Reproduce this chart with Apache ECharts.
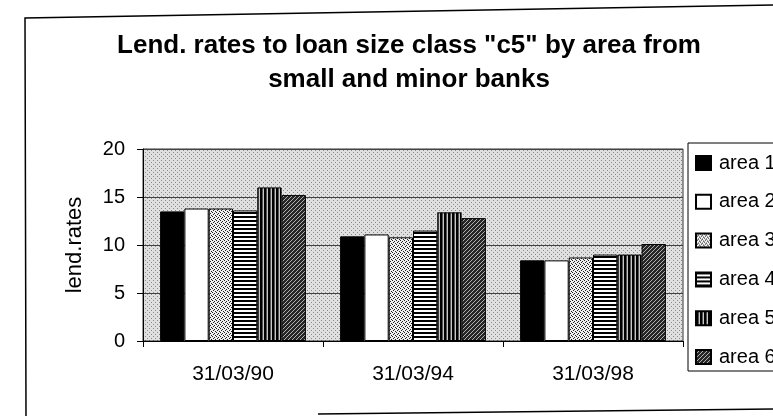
<!DOCTYPE html>
<html>
<head>
<meta charset="utf-8">
<title>Lend. rates to loan size class "c5"</title>
<script src="https://cdn.jsdelivr.net/npm/echarts@6/dist/echarts.min.js"></script>
<style>
  html, body { margin: 0; padding: 0; background: #fff; }
  #chart { width: 773px; height: 416px; }
</style>
</head>
<body>
<div id="chart"></div>
<script>
// Survey dates on the category axis
const categories = ['31/03/90', '31/03/94', '31/03/98'];

// Lending rates per area (one value per survey date)
const area1 = [13.5, 10.9, 8.4];
const area2 = [13.8, 11.1, 8.4];
const area3 = [13.8, 10.8, 8.7];
const area4 = [13.6, 11.5, 9.0];
const area5 = [16.0, 13.4, 9.0];
const area6 = [15.2, 12.8, 10.1];

const seriesNames = ['area 1', 'area 2', 'area 3', 'area 4', 'area 5', 'area 6'];
const seriesValues = [area1, area2, area3, area4, area5, area6];

// Value axis ticks
const yTicks = [0, 5, 10, 15, 20];

const titleText = 'Lend. rates to loan size class "c5" by area from\nsmall and minor banks';
const yAxisName = 'lend.rates';

// Small repeating bitmap fills, in the style of monochrome print patterns
function makePattern(size, bg, draw) {
  const c = document.createElement('canvas');
  c.width = size; c.height = size;
  const g = c.getContext('2d');
  g.fillStyle = bg;
  g.fillRect(0, 0, size, size);
  draw(g);
  return { image: c, repeat: 'repeat' };
}
function px(g, color, pts) {
  g.fillStyle = color;
  pts.forEach(p => g.fillRect(p[0], p[1], 1, 1));
}

const fills = [
  '#000000',
  '#ffffff',
  // light stipple
  makePattern(4, '#f0f0f0', g => px(g, '#222', [[0, 0], [2, 1], [1, 2], [3, 3]])),
  // horizontal stripes
  makePattern(4, '#ffffff', g => { g.fillStyle = '#000'; g.fillRect(0, 0, 4, 2); }),
  // vertical stripes
  makePattern(4, '#c8c8c8', g => { g.fillStyle = '#000'; g.fillRect(0, 0, 2, 4); g.fillStyle = '#555'; g.fillRect(2, 0, 1, 4); }),
  // dark diagonal weave
  makePattern(4, '#262626', g => px(g, '#b0b0b0', [[0, 3], [1, 2], [2, 1], [3, 0]]))
];

// Grey stippled plot background
const plotFill = makePattern(4, '#e0e0e0', g => px(g, '#888', [[1, 0], [3, 2]]));

const FONT = 'Liberation Sans, Arial, sans-serif';

const chart = echarts.init(document.getElementById('chart'), null, { renderer: 'canvas' });

chart.setOption({
  animation: false,
  backgroundColor: '#ffffff',
  grid: {
    left: 143, right: 90, top: 149, bottom: 75,
    show: true,
    backgroundColor: plotFill,
    borderColor: '#333',
    borderWidth: 1
  },
  legend: {
    orient: 'vertical',
    left: 688, top: 143,
    padding: [10, 60, 4, 7],
    itemGap: 18.8,
    itemWidth: 15,
    itemHeight: 14,
    icon: 'rect',
    backgroundColor: '#fff',
    borderColor: '#000',
    borderWidth: 1,
    borderRadius: 0,
    textStyle: { fontFamily: FONT, fontSize: 20, color: '#000', lineHeight: 20, padding: [0, 0, 0, 3] },
    data: seriesNames
  },
  xAxis: {
    type: 'category',
    data: categories,
    axisLine: { show: true, lineStyle: { color: '#000', width: 1 } },
    axisTick: { show: true, length: 6, alignWithLabel: false, lineStyle: { color: '#000' } },
    axisLabel: { fontFamily: FONT, fontSize: 21, color: '#000', margin: 23 },
    splitLine: { show: false }
  },
  yAxis: {
    type: 'value',
    min: yTicks[0],
    max: yTicks[yTicks.length - 1],
    interval: yTicks[1] - yTicks[0],
    name: yAxisName,
    nameLocation: 'middle',
    nameGap: 57,
    nameTextStyle: { fontFamily: FONT, fontSize: 22, color: '#000' },
    axisLine: { show: true, lineStyle: { color: '#000', width: 1 } },
    axisTick: { show: true, length: 6, lineStyle: { color: '#000' } },
    axisLabel: { fontFamily: FONT, fontSize: 20, color: '#000', margin: 18 },
    splitLine: { show: true, lineStyle: { color: '#444', width: 1 } }
  },
  series: seriesNames.map((name, i) => ({
    name: name,
    type: 'bar',
    data: seriesValues[i],
    barGap: '0%',
    barCategoryGap: '19%',
    itemStyle: { color: fills[i], borderColor: '#000', borderWidth: 1 }
  })),
  graphic: [
    {
      type: 'text',
      x: 409, y: 29,
      style: {
        text: titleText,
        fontFamily: FONT,
        fontSize: 26,
        fontWeight: 'bold',
        lineHeight: 34,
        fill: '#000',
        align: 'center',
        textAlign: 'center'
      }
    },
    // chart frame
    { type: 'polyline', shape: { points: [[26, 416], [25, 18], [773, 5]] }, style: { stroke: '#000', lineWidth: 1.5, fill: null } },
    { type: 'line', shape: { x1: 318, y1: 414, x2: 773, y2: 409 }, style: { stroke: '#000', lineWidth: 1.5 } }
  ]
});
</script>
</body>
</html>
